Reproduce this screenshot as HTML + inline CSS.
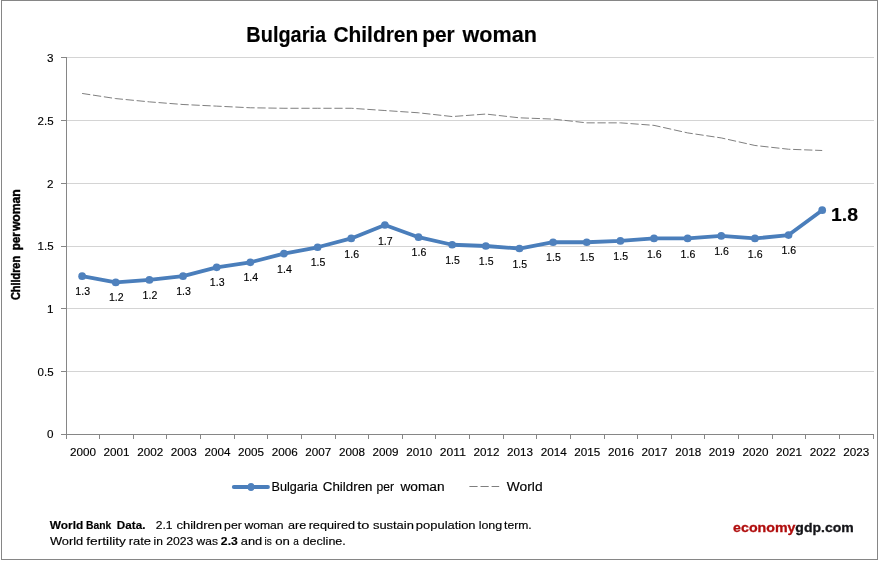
<!DOCTYPE html>
<html><head><meta charset="utf-8"><title>Bulgaria Children per woman</title>
<style>html,body{margin:0;padding:0;background:#fff;overflow:hidden}svg{display:block;will-change:transform}text{font-family:"Liberation Sans",sans-serif;stroke:#000;stroke-width:.15px}</style>
</head><body>
<svg width="878" height="561" viewBox="0 0 878 561">
<rect x="0" y="0" width="878" height="561" fill="#ffffff"/>
<rect x="1.5" y="0.5" width="876" height="559" fill="none" stroke="#868686" stroke-width="1"/>
<line x1="67" y1="371.50" x2="874" y2="371.50" stroke="#d4d4d4" stroke-width="1"/>
<line x1="67" y1="308.50" x2="874" y2="308.50" stroke="#d4d4d4" stroke-width="1"/>
<line x1="67" y1="246.50" x2="874" y2="246.50" stroke="#d4d4d4" stroke-width="1"/>
<line x1="67" y1="183.50" x2="874" y2="183.50" stroke="#d4d4d4" stroke-width="1"/>
<line x1="67" y1="120.50" x2="874" y2="120.50" stroke="#d4d4d4" stroke-width="1"/>
<line x1="67" y1="57.50" x2="874" y2="57.50" stroke="#d4d4d4" stroke-width="1"/>
<line x1="66.5" y1="57" x2="66.5" y2="435" stroke="#868686" stroke-width="1"/>
<line x1="61" y1="434.5" x2="874" y2="434.5" stroke="#868686" stroke-width="1"/>
<line x1="61" y1="371.50" x2="67" y2="371.50" stroke="#868686" stroke-width="1"/>
<line x1="61" y1="308.50" x2="67" y2="308.50" stroke="#868686" stroke-width="1"/>
<line x1="61" y1="246.50" x2="67" y2="246.50" stroke="#868686" stroke-width="1"/>
<line x1="61" y1="183.50" x2="67" y2="183.50" stroke="#868686" stroke-width="1"/>
<line x1="61" y1="120.50" x2="67" y2="120.50" stroke="#868686" stroke-width="1"/>
<line x1="61" y1="57.50" x2="67" y2="57.50" stroke="#868686" stroke-width="1"/>
<line x1="66.50" y1="434" x2="66.50" y2="439" stroke="#868686" stroke-width="1"/>
<line x1="99.50" y1="434" x2="99.50" y2="439" stroke="#868686" stroke-width="1"/>
<line x1="133.50" y1="434" x2="133.50" y2="439" stroke="#868686" stroke-width="1"/>
<line x1="166.50" y1="434" x2="166.50" y2="439" stroke="#868686" stroke-width="1"/>
<line x1="200.50" y1="434" x2="200.50" y2="439" stroke="#868686" stroke-width="1"/>
<line x1="234.50" y1="434" x2="234.50" y2="439" stroke="#868686" stroke-width="1"/>
<line x1="267.50" y1="434" x2="267.50" y2="439" stroke="#868686" stroke-width="1"/>
<line x1="301.50" y1="434" x2="301.50" y2="439" stroke="#868686" stroke-width="1"/>
<line x1="335.50" y1="434" x2="335.50" y2="439" stroke="#868686" stroke-width="1"/>
<line x1="368.50" y1="434" x2="368.50" y2="439" stroke="#868686" stroke-width="1"/>
<line x1="402.50" y1="434" x2="402.50" y2="439" stroke="#868686" stroke-width="1"/>
<line x1="435.50" y1="434" x2="435.50" y2="439" stroke="#868686" stroke-width="1"/>
<line x1="469.50" y1="434" x2="469.50" y2="439" stroke="#868686" stroke-width="1"/>
<line x1="503.50" y1="434" x2="503.50" y2="439" stroke="#868686" stroke-width="1"/>
<line x1="536.50" y1="434" x2="536.50" y2="439" stroke="#868686" stroke-width="1"/>
<line x1="570.50" y1="434" x2="570.50" y2="439" stroke="#868686" stroke-width="1"/>
<line x1="604.50" y1="434" x2="604.50" y2="439" stroke="#868686" stroke-width="1"/>
<line x1="637.50" y1="434" x2="637.50" y2="439" stroke="#868686" stroke-width="1"/>
<line x1="671.50" y1="434" x2="671.50" y2="439" stroke="#868686" stroke-width="1"/>
<line x1="704.50" y1="434" x2="704.50" y2="439" stroke="#868686" stroke-width="1"/>
<line x1="738.50" y1="434" x2="738.50" y2="439" stroke="#868686" stroke-width="1"/>
<line x1="772.50" y1="434" x2="772.50" y2="439" stroke="#868686" stroke-width="1"/>
<line x1="805.50" y1="434" x2="805.50" y2="439" stroke="#868686" stroke-width="1"/>
<line x1="839.50" y1="434" x2="839.50" y2="439" stroke="#868686" stroke-width="1"/>
<line x1="873.50" y1="434" x2="873.50" y2="439" stroke="#868686" stroke-width="1"/>
<polyline points="82.12,93.44 115.76,98.59 149.40,101.86 183.04,104.50 216.68,106.13 250.32,107.77 283.96,108.27 317.60,108.27 351.24,108.27 384.88,110.53 418.52,112.79 452.16,116.56 485.80,114.05 519.44,117.82 553.08,119.08 586.72,122.85 620.36,122.85 654.00,125.36 687.64,132.90 721.28,137.93 754.92,145.47 788.56,149.24 822.20,150.49" fill="none" stroke="#7f7f7f" stroke-width="1" stroke-dasharray="8.25,2.75"/>
<polyline points="82.12,276.16 115.76,282.44 149.40,279.93 183.04,276.16 216.68,267.36 250.32,262.34 283.96,253.54 317.60,247.26 351.24,238.46 384.88,225.01 418.52,237.20 452.16,244.74 485.80,246.00 519.44,248.51 553.08,242.23 586.72,242.23 620.36,240.97 654.00,238.46 687.64,238.46 721.28,235.95 754.92,238.46 788.56,235.07 822.20,210.19" fill="none" stroke="#4a7ebb" stroke-width="3.8" stroke-linejoin="round" stroke-linecap="round"/>
<circle cx="82.12" cy="276.16" r="3.85" fill="#4f81bd"/>
<circle cx="115.76" cy="282.44" r="3.85" fill="#4f81bd"/>
<circle cx="149.40" cy="279.93" r="3.85" fill="#4f81bd"/>
<circle cx="183.04" cy="276.16" r="3.85" fill="#4f81bd"/>
<circle cx="216.68" cy="267.36" r="3.85" fill="#4f81bd"/>
<circle cx="250.32" cy="262.34" r="3.85" fill="#4f81bd"/>
<circle cx="283.96" cy="253.54" r="3.85" fill="#4f81bd"/>
<circle cx="317.60" cy="247.26" r="3.85" fill="#4f81bd"/>
<circle cx="351.24" cy="238.46" r="3.85" fill="#4f81bd"/>
<circle cx="384.88" cy="225.01" r="3.85" fill="#4f81bd"/>
<circle cx="418.52" cy="237.20" r="3.85" fill="#4f81bd"/>
<circle cx="452.16" cy="244.74" r="3.85" fill="#4f81bd"/>
<circle cx="485.80" cy="246.00" r="3.85" fill="#4f81bd"/>
<circle cx="519.44" cy="248.51" r="3.85" fill="#4f81bd"/>
<circle cx="553.08" cy="242.23" r="3.85" fill="#4f81bd"/>
<circle cx="586.72" cy="242.23" r="3.85" fill="#4f81bd"/>
<circle cx="620.36" cy="240.97" r="3.85" fill="#4f81bd"/>
<circle cx="654.00" cy="238.46" r="3.85" fill="#4f81bd"/>
<circle cx="687.64" cy="238.46" r="3.85" fill="#4f81bd"/>
<circle cx="721.28" cy="235.95" r="3.85" fill="#4f81bd"/>
<circle cx="754.92" cy="238.46" r="3.85" fill="#4f81bd"/>
<circle cx="788.56" cy="235.07" r="3.85" fill="#4f81bd"/>
<circle cx="822.20" cy="210.19" r="3.85" fill="#4f81bd"/>
<text x="82.71" y="295" font-size="11.5" text-anchor="middle" textLength="14.7" lengthAdjust="spacingAndGlyphs">1.3</text>
<text x="116.34" y="301" font-size="11.5" text-anchor="middle" textLength="14.7" lengthAdjust="spacingAndGlyphs">1.2</text>
<text x="149.96" y="299" font-size="11.5" text-anchor="middle" textLength="14.7" lengthAdjust="spacingAndGlyphs">1.2</text>
<text x="183.59" y="295" font-size="11.5" text-anchor="middle" textLength="14.7" lengthAdjust="spacingAndGlyphs">1.3</text>
<text x="217.21" y="286" font-size="11.5" text-anchor="middle" textLength="14.7" lengthAdjust="spacingAndGlyphs">1.3</text>
<text x="250.84" y="281" font-size="11.5" text-anchor="middle" textLength="14.7" lengthAdjust="spacingAndGlyphs">1.4</text>
<text x="284.46" y="273" font-size="11.5" text-anchor="middle" textLength="14.7" lengthAdjust="spacingAndGlyphs">1.4</text>
<text x="318.09" y="266" font-size="11.5" text-anchor="middle" textLength="14.7" lengthAdjust="spacingAndGlyphs">1.5</text>
<text x="351.71" y="258" font-size="11.5" text-anchor="middle" textLength="14.7" lengthAdjust="spacingAndGlyphs">1.6</text>
<text x="385.34" y="245" font-size="11.5" text-anchor="middle" textLength="14.7" lengthAdjust="spacingAndGlyphs">1.7</text>
<text x="418.96" y="256" font-size="11.5" text-anchor="middle" textLength="14.7" lengthAdjust="spacingAndGlyphs">1.6</text>
<text x="452.59" y="264" font-size="11.5" text-anchor="middle" textLength="14.7" lengthAdjust="spacingAndGlyphs">1.5</text>
<text x="486.21" y="265" font-size="11.5" text-anchor="middle" textLength="14.7" lengthAdjust="spacingAndGlyphs">1.5</text>
<text x="519.84" y="268" font-size="11.5" text-anchor="middle" textLength="14.7" lengthAdjust="spacingAndGlyphs">1.5</text>
<text x="553.46" y="261" font-size="11.5" text-anchor="middle" textLength="14.7" lengthAdjust="spacingAndGlyphs">1.5</text>
<text x="587.09" y="261" font-size="11.5" text-anchor="middle" textLength="14.7" lengthAdjust="spacingAndGlyphs">1.5</text>
<text x="620.71" y="260" font-size="11.5" text-anchor="middle" textLength="14.7" lengthAdjust="spacingAndGlyphs">1.5</text>
<text x="654.34" y="258" font-size="11.5" text-anchor="middle" textLength="14.7" lengthAdjust="spacingAndGlyphs">1.6</text>
<text x="687.96" y="258" font-size="11.5" text-anchor="middle" textLength="14.7" lengthAdjust="spacingAndGlyphs">1.6</text>
<text x="721.59" y="255" font-size="11.5" text-anchor="middle" textLength="14.7" lengthAdjust="spacingAndGlyphs">1.6</text>
<text x="755.21" y="258" font-size="11.5" text-anchor="middle" textLength="14.7" lengthAdjust="spacingAndGlyphs">1.6</text>
<text x="788.84" y="254" font-size="11.5" text-anchor="middle" textLength="14.7" lengthAdjust="spacingAndGlyphs">1.6</text>
<text x="831" y="221" font-size="19" font-weight="bold" textLength="27" lengthAdjust="spacingAndGlyphs">1.8</text>
<text x="53.6" y="438" font-size="11.5" text-anchor="end" textLength="6.5" lengthAdjust="spacingAndGlyphs">0</text>
<text x="53.6" y="376" font-size="11.5" text-anchor="end" textLength="16" lengthAdjust="spacingAndGlyphs">0.5</text>
<text x="53.6" y="313" font-size="11.5" text-anchor="end" textLength="6.5" lengthAdjust="spacingAndGlyphs">1</text>
<text x="53.6" y="250" font-size="11.5" text-anchor="end" textLength="16" lengthAdjust="spacingAndGlyphs">1.5</text>
<text x="53.6" y="188" font-size="11.5" text-anchor="end" textLength="6.5" lengthAdjust="spacingAndGlyphs">2</text>
<text x="53.6" y="125" font-size="11.5" text-anchor="end" textLength="16" lengthAdjust="spacingAndGlyphs">2.5</text>
<text x="53.6" y="62" font-size="11.5" text-anchor="end" textLength="6.5" lengthAdjust="spacingAndGlyphs">3</text>
<text x="83.01" y="456" font-size="11.5" text-anchor="middle" textLength="26.0" lengthAdjust="spacingAndGlyphs">2000</text>
<text x="116.64" y="456" font-size="11.5" text-anchor="middle" textLength="26.0" lengthAdjust="spacingAndGlyphs">2001</text>
<text x="150.26" y="456" font-size="11.5" text-anchor="middle" textLength="26.0" lengthAdjust="spacingAndGlyphs">2002</text>
<text x="183.89" y="456" font-size="11.5" text-anchor="middle" textLength="26.0" lengthAdjust="spacingAndGlyphs">2003</text>
<text x="217.51" y="456" font-size="11.5" text-anchor="middle" textLength="26.0" lengthAdjust="spacingAndGlyphs">2004</text>
<text x="251.14" y="456" font-size="11.5" text-anchor="middle" textLength="26.0" lengthAdjust="spacingAndGlyphs">2005</text>
<text x="284.76" y="456" font-size="11.5" text-anchor="middle" textLength="26.0" lengthAdjust="spacingAndGlyphs">2006</text>
<text x="318.39" y="456" font-size="11.5" text-anchor="middle" textLength="26.0" lengthAdjust="spacingAndGlyphs">2007</text>
<text x="352.01" y="456" font-size="11.5" text-anchor="middle" textLength="26.0" lengthAdjust="spacingAndGlyphs">2008</text>
<text x="385.64" y="456" font-size="11.5" text-anchor="middle" textLength="26.0" lengthAdjust="spacingAndGlyphs">2009</text>
<text x="419.26" y="456" font-size="11.5" text-anchor="middle" textLength="26.0" lengthAdjust="spacingAndGlyphs">2010</text>
<text x="452.89" y="456" font-size="11.5" text-anchor="middle" textLength="26.0" lengthAdjust="spacingAndGlyphs">2011</text>
<text x="486.51" y="456" font-size="11.5" text-anchor="middle" textLength="26.0" lengthAdjust="spacingAndGlyphs">2012</text>
<text x="520.14" y="456" font-size="11.5" text-anchor="middle" textLength="26.0" lengthAdjust="spacingAndGlyphs">2013</text>
<text x="553.76" y="456" font-size="11.5" text-anchor="middle" textLength="26.0" lengthAdjust="spacingAndGlyphs">2014</text>
<text x="587.39" y="456" font-size="11.5" text-anchor="middle" textLength="26.0" lengthAdjust="spacingAndGlyphs">2015</text>
<text x="621.01" y="456" font-size="11.5" text-anchor="middle" textLength="26.0" lengthAdjust="spacingAndGlyphs">2016</text>
<text x="654.64" y="456" font-size="11.5" text-anchor="middle" textLength="26.0" lengthAdjust="spacingAndGlyphs">2017</text>
<text x="688.26" y="456" font-size="11.5" text-anchor="middle" textLength="26.0" lengthAdjust="spacingAndGlyphs">2018</text>
<text x="721.89" y="456" font-size="11.5" text-anchor="middle" textLength="26.0" lengthAdjust="spacingAndGlyphs">2019</text>
<text x="755.51" y="456" font-size="11.5" text-anchor="middle" textLength="26.0" lengthAdjust="spacingAndGlyphs">2020</text>
<text x="789.14" y="456" font-size="11.5" text-anchor="middle" textLength="26.0" lengthAdjust="spacingAndGlyphs">2021</text>
<text x="822.76" y="456" font-size="11.5" text-anchor="middle" textLength="26.0" lengthAdjust="spacingAndGlyphs">2022</text>
<text x="856.39" y="456" font-size="11.5" text-anchor="middle" textLength="26.0" lengthAdjust="spacingAndGlyphs">2023</text>
<text x="246.36" y="42" font-size="22" font-weight="bold" textLength="79.66" lengthAdjust="spacingAndGlyphs">Bulgaria</text>
<text x="333.42" y="42" font-size="22" font-weight="bold" textLength="84.85" lengthAdjust="spacingAndGlyphs">Children</text>
<text x="422.21" y="42" font-size="22" font-weight="bold" textLength="32.54" lengthAdjust="spacingAndGlyphs">per</text>
<text x="462.6" y="42" font-size="22" font-weight="bold" textLength="74.32" lengthAdjust="spacingAndGlyphs">woman</text>
<text x="271.6" y="491" font-size="12" textLength="46.29" lengthAdjust="spacingAndGlyphs">Bulgaria</text>
<text x="322.81" y="491" font-size="12" textLength="49.7" lengthAdjust="spacingAndGlyphs">Children</text>
<text x="376.64" y="491" font-size="12" textLength="17.51" lengthAdjust="spacingAndGlyphs">per</text>
<text x="400.47" y="491" font-size="12" textLength="44.11" lengthAdjust="spacingAndGlyphs">woman</text>
<text x="506.82" y="491" font-size="12" textLength="35.75" lengthAdjust="spacingAndGlyphs">World</text>
<text x="49.78" y="529" font-size="10.8" font-weight="bold" textLength="33.42" lengthAdjust="spacingAndGlyphs">World</text>
<text x="86.05" y="529" font-size="10.8" font-weight="bold" textLength="25.22" lengthAdjust="spacingAndGlyphs">Bank</text>
<text x="116.89" y="529" font-size="10.8" font-weight="bold" textLength="28.51" lengthAdjust="spacingAndGlyphs">Data.</text>
<text x="155.78" y="529" font-size="10.8" textLength="16.75" lengthAdjust="spacingAndGlyphs">2.1</text>
<text x="176.43" y="529" font-size="10.8" textLength="45.63" lengthAdjust="spacingAndGlyphs">children</text>
<text x="224.14" y="529" font-size="10.8" textLength="17.64" lengthAdjust="spacingAndGlyphs">per</text>
<text x="244.4" y="529" font-size="10.8" textLength="39.19" lengthAdjust="spacingAndGlyphs">woman</text>
<text x="288.02" y="529" font-size="10.8" textLength="18.25" lengthAdjust="spacingAndGlyphs">are</text>
<text x="308.66" y="529" font-size="10.8" textLength="46.42" lengthAdjust="spacingAndGlyphs">required</text>
<text x="357.32" y="529" font-size="10.8" textLength="12.21" lengthAdjust="spacingAndGlyphs">to</text>
<text x="372.93" y="529" font-size="10.8" textLength="40.94" lengthAdjust="spacingAndGlyphs">sustain</text>
<text x="415.87" y="529" font-size="10.8" textLength="59.71" lengthAdjust="spacingAndGlyphs">population</text>
<text x="478.66" y="529" font-size="10.8" textLength="23.59" lengthAdjust="spacingAndGlyphs">long</text>
<text x="504.07" y="529" font-size="10.8" textLength="27.64" lengthAdjust="spacingAndGlyphs">term.</text>
<text x="49.93" y="545" font-size="10.8" textLength="33.32" lengthAdjust="spacingAndGlyphs">World</text>
<text x="86.32" y="545" font-size="10.8" textLength="39.58" lengthAdjust="spacingAndGlyphs">fertility</text>
<text x="128.65" y="545" font-size="10.8" textLength="22.37" lengthAdjust="spacingAndGlyphs">rate</text>
<text x="153.59" y="545" font-size="10.8" textLength="9.36" lengthAdjust="spacingAndGlyphs">in</text>
<text x="166.25" y="545" font-size="10.8" textLength="27.18" lengthAdjust="spacingAndGlyphs">2023</text>
<text x="196.62" y="545" font-size="10.8" textLength="21.34" lengthAdjust="spacingAndGlyphs">was</text>
<text x="220.89" y="545" font-size="10.8" font-weight="bold" textLength="16.89" lengthAdjust="spacingAndGlyphs">2.3</text>
<text x="240.77" y="545" font-size="10.8" textLength="21.45" lengthAdjust="spacingAndGlyphs">and</text>
<text x="264.55" y="545" font-size="10.8" textLength="7.26" lengthAdjust="spacingAndGlyphs">is</text>
<text x="275.28" y="545" font-size="10.8" textLength="14.68" lengthAdjust="spacingAndGlyphs">on</text>
<text x="293.22" y="545" font-size="10.8" textLength="5.59" lengthAdjust="spacingAndGlyphs">a</text>
<text x="302.66" y="545" font-size="10.8" textLength="43.14" lengthAdjust="spacingAndGlyphs">decline.</text>
<text x="733.08" y="532" font-size="13.3" font-weight="bold" fill="#b00d0d" style="stroke:#b00d0d;stroke-width:.3px" textLength="62.39" lengthAdjust="spacingAndGlyphs">economy</text>
<text x="795.34" y="532" font-size="13.3" font-weight="bold" fill="#141418" style="stroke:#141418;stroke-width:.3px" textLength="58.38" lengthAdjust="spacingAndGlyphs">gdp.com</text>
<text transform="translate(19.5,300.08) rotate(-90)" font-size="12" font-weight="bold" style="stroke-width:.45px" textLength="44.16" lengthAdjust="spacingAndGlyphs">Children</text>
<text transform="translate(19.5,250.32) rotate(-90)" font-size="12" font-weight="bold" style="stroke-width:.45px" textLength="18.1" lengthAdjust="spacingAndGlyphs">per</text>
<text transform="translate(19.5,231.1) rotate(-90)" font-size="12" font-weight="bold" style="stroke-width:.45px" textLength="41.88" lengthAdjust="spacingAndGlyphs">woman</text>
<line x1="233.8" y1="487" x2="268" y2="487" stroke="#4a7ebb" stroke-width="3.8" stroke-linecap="round"/>
<ellipse cx="251" cy="487" rx="3.5" ry="3.95" fill="#4f81bd"/>
<line x1="469.4" y1="486.5" x2="499.2" y2="486.5" stroke="#7f7f7f" stroke-width="1" stroke-dasharray="8.2,2.9"/>
</svg></body></html>
